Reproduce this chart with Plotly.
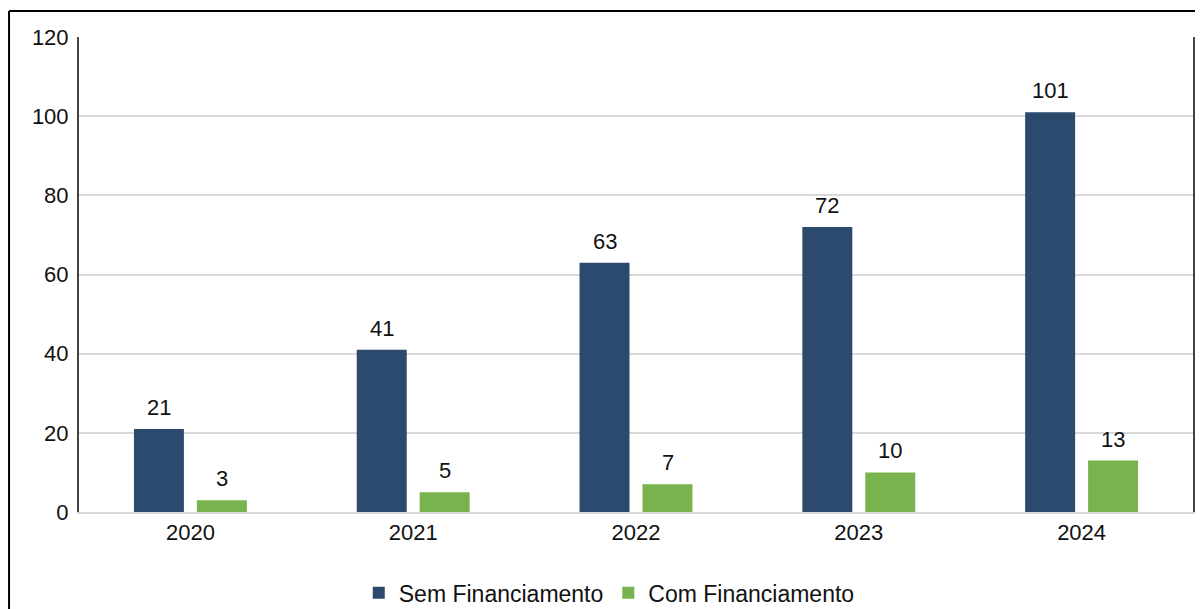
import plotly.graph_objects as go

years = ["2020", "2021", "2022", "2023", "2024"]
sem_financiamento = [21, 41, 63, 72, 101]
com_financiamento = [3, 5, 7, 10, 13]
y_ticks = [0, 20, 40, 60, 80, 100, 120]

FONT = "Liberation Sans, Arial, sans-serif"
TXT = "#111111"

fig = go.Figure()
fig.add_trace(go.Bar(
    x=years, y=sem_financiamento, name="Sem Financiamento",
    marker=dict(color="#2C4A6E", line=dict(width=0)),
))
fig.add_trace(go.Bar(
    x=years, y=com_financiamento, name="Com Financiamento",
    marker=dict(color="#78B34E", line=dict(width=0)),
))

annotations = []
for i, v in enumerate(sem_financiamento):
    annotations.append(dict(x=i, y=v, xref="x", yref="y", text=str(v), showarrow=False,
                            xshift=-31.5, yshift=7, yanchor="bottom",
                            font=dict(size=22, family=FONT, color=TXT)))
for i, v in enumerate(com_financiamento):
    annotations.append(dict(x=i, y=v, xref="x", yref="y", text=str(v), showarrow=False,
                            xshift=31.5, yshift=7, yanchor="bottom",
                            font=dict(size=22, family=FONT, color=TXT)))

fig.update_layout(
    width=1195, height=601,
    margin=dict(l=71, r=10, t=29, b=97, autoexpand=False),
    paper_bgcolor="white", plot_bgcolor="white",
    barmode="group", bargap=0.435, bargroupgap=0.206,
    font=dict(family=FONT, size=22, color=TXT),
    showlegend=True,
    legend=dict(orientation="h", x=0.476, xanchor="center", y=-0.17, yanchor="middle",
                font=dict(size=23, family=FONT, color=TXT),
                itemwidth=30, traceorder="normal"),
    annotations=annotations,
    shapes=[
        dict(type="line", xref="paper", yref="paper", x0=-0.0628, x1=1.05, y0=1.0547, y1=1.0547,
             line=dict(color="black", width=2)),
        dict(type="line", xref="paper", yref="paper", x0=-0.0628, x1=-0.0628, y0=-0.25, y1=1.0547,
             line=dict(color="black", width=2)),
    ],
)
fig.update_xaxes(
    type="category", categoryorder="array", categoryarray=years,
    range=[-0.5, len(years) - 0.5],
    showline=True, linecolor="#D9D9D9", linewidth=2,
    showgrid=False, ticks="", tickfont=dict(size=22, family=FONT, color=TXT),
)
fig.update_yaxes(
    range=[0, 120], tickvals=y_ticks, showgrid=True, gridcolor="#D9D9D9", gridwidth=2,
    showline=True, linecolor="#444444", linewidth=2, mirror=True,
    zeroline=False, ticks="", ticklabelstandoff=4,
    tickfont=dict(size=22, family=FONT, color=TXT),
)

fig.write_html("out.html")
